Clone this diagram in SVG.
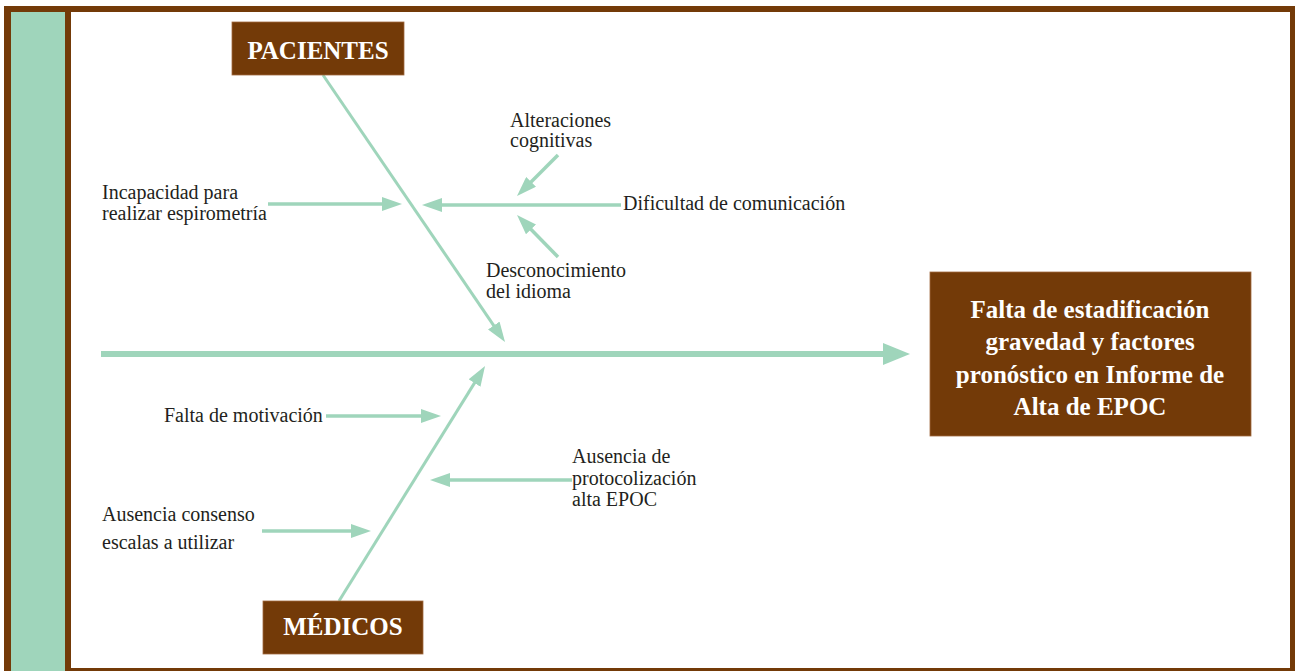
<svg xmlns="http://www.w3.org/2000/svg" width="1295" height="671" viewBox="0 0 1295 671">
<style>
.lbl{font-family:"Liberation Serif","Times New Roman",serif;font-size:20px;fill:#231f20}
.hdr{font-family:"Liberation Serif","Times New Roman",serif;font-size:25px;font-weight:bold;fill:#ffffff}
.box{fill:#733a08;stroke:#a06a40;stroke-width:0.8}
.br{stroke:#9fd5bb;stroke-width:3.5;fill:none}
.dg{stroke:#9fd5bb;stroke-width:3;fill:none}
</style>
<defs>
<marker id="ah" markerUnits="userSpaceOnUse" markerWidth="20" markerHeight="14" refX="4" refY="7" orient="auto">
<path d="M0,0 L20,7 L0,14 z" fill="#9fd5bb"/>
</marker>
<marker id="ahm" markerUnits="userSpaceOnUse" markerWidth="27" markerHeight="22" refX="4" refY="11" orient="auto">
<path d="M0,0 L27,11 L0,22 z" fill="#9fd5bb"/>
</marker>
</defs>
<g id="frame">
<rect x="4" y="6" width="1291" height="665" fill="#733a08"/>
<rect x="71" y="12" width="1219" height="656" fill="#ffffff"/>
<rect x="11" y="12" width="54" height="659" fill="#9fd5bb"/>
</g>
<g id="connectors">
<line x1="101" y1="354" x2="887" y2="354" stroke="#9fd5bb" stroke-width="6" marker-end="url(#ahm)"/>
<line class="dg" x1="323" y1="75" x2="496" y2="328.8" marker-end="url(#ah)"/>
<line class="dg" x1="339" y1="601" x2="476.6" y2="379.6" marker-end="url(#ah)"/>
<line class="br" x1="268" y1="204" x2="386" y2="204" marker-end="url(#ah)"/>
<line class="br" x1="621" y1="205" x2="438" y2="205" marker-end="url(#ah)"/>
<line class="br" x1="558" y1="155" x2="528.3" y2="184.7" marker-end="url(#ah)"/>
<line class="br" x1="558" y1="257" x2="528.2" y2="226.5" marker-end="url(#ah)"/>
<line class="br" x1="326" y1="416" x2="425" y2="416" marker-end="url(#ah)"/>
<line class="br" x1="572" y1="480" x2="446" y2="480" marker-end="url(#ah)"/>
<line class="br" x1="262" y1="531" x2="355" y2="531" marker-end="url(#ah)"/>
</g>
<g id="pacientes">
<rect class="box" x="232" y="22" width="172" height="53"/>
<text class="hdr" x="318" y="59" text-anchor="middle">PACIENTES</text>
</g>
<g id="medicos">
<rect class="box" x="263" y="601" width="160" height="53"/>
<text class="hdr" x="343" y="635" text-anchor="middle">MÉDICOS</text>
</g>
<g id="efecto">
<rect class="box" x="930" y="272" width="321" height="164"/>
<text class="hdr" x="1090" y="318" text-anchor="middle">Falta de estadificación</text>
<text class="hdr" x="1090" y="350" text-anchor="middle">gravedad y factores</text>
<text class="hdr" x="1090" y="383" text-anchor="middle">pronóstico en Informe de</text>
<text class="hdr" x="1090" y="415" text-anchor="middle">Alta de EPOC</text>
</g>
<g id="alteraciones">
<text class="lbl" x="510" y="127">Alteraciones</text>
<text class="lbl" x="510" y="147">cognitivas</text>
</g>
<g id="dificultad">
<text class="lbl" x="623" y="210">Dificultad de comunicación</text>
</g>
<g id="desconocimiento">
<text class="lbl" x="486" y="277">Desconocimiento</text>
<text class="lbl" x="486" y="298">del idioma</text>
</g>
<g id="incapacidad">
<text class="lbl" x="102" y="199">Incapacidad para</text>
<text class="lbl" x="102" y="220">realizar espirometría</text>
</g>
<g id="motivacion">
<text class="lbl" x="164" y="422">Falta de motivación</text>
</g>
<g id="protocolizacion">
<text class="lbl" x="572" y="463">Ausencia de</text>
<text class="lbl" x="572" y="485">protocolización</text>
<text class="lbl" x="572" y="506">alta EPOC</text>
</g>
<g id="consenso">
<text class="lbl" x="102" y="521">Ausencia consenso</text>
<text class="lbl" x="102" y="549">escalas a utilizar</text>
</g>
</svg>
